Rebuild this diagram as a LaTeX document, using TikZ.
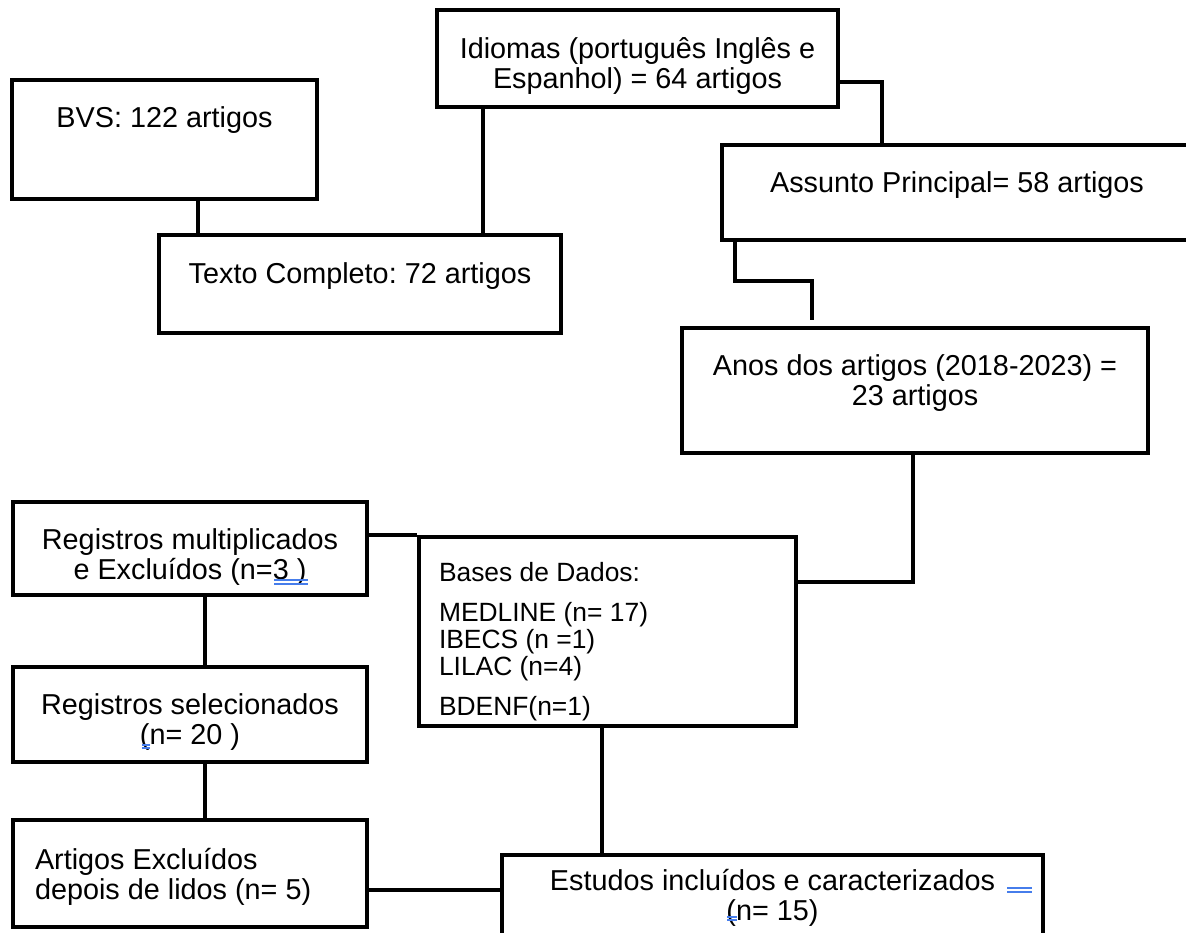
\documentclass[tikz,border=0pt]{standalone}
\usepackage{fontspec}
\setmainfont{Liberation Sans}
\usetikzlibrary{positioning}
\definecolor{spellblue}{RGB}{70,125,235}
\frenchspacing

\begin{document}
\begin{tikzpicture}[x=0.5pt,y=-0.5pt,line width=2pt]
        \tikzstyle{box}=[draw,rectangle,inner sep=0pt]
        \tikzstyle{txt}=[inner sep=0pt,align=center,font=\fontsize{14.4pt}{15pt}\selectfont]
        \tikzstyle{small txt}=[txt,align=left,font=\fontsize{13.2pt}{13.5pt}\selectfont]
        \tikzstyle{spellmark}=[draw=spellblue,line width=0.8pt]

        \useasboundingbox (0,0) rectangle (1186,932);
        \clip (0,0) rectangle (1186,932);

        % Draw the search boxes at the top
        \node[box,minimum width=152.5pt,minimum height=59.5pt] (bvs) at (164.5,139.5) {};
        \node[box,minimum width=201pt,minimum height=49pt] (texto) at (360,284) {};
        \node[box,minimum width=200.5pt,minimum height=48.5pt] (idiomas) at (637.5,58.5) {};
        \node[box,minimum width=235pt,minimum height=47.5pt] (assunto) at (957,192.5) {};
        \node[box,minimum width=233pt,minimum height=62.5pt] (anos) at (915,390.5) {};

        % Draw the selection boxes at the bottom
        \node[box,minimum width=177pt,minimum height=46.5pt] (regmult) at (190,548.5) {};
        \node[box,minimum width=177pt,minimum height=47.5pt] (regsel) at (190,714.5) {};
        \node[box,minimum width=177pt,minimum height=53.5pt] (artigos) at (190,873.5) {};
        \node[box,minimum width=188.5pt,minimum height=94.5pt] (bases) at (607.5,631.5) {};
        \node[box,minimum width=270.5pt,minimum height=60pt] (estudos) at (772.5,915) {};

        % Texts of the boxes
        \node[txt] (bvs-t) at ([yshift=9.75pt]bvs.center) {BVS: 122 artigos};
        \node[txt] (texto-t) at ([yshift=4pt]texto.center) {Texto Completo: 72 artigos};
        \node[txt] (idiomas-t) at ([yshift=-3.75pt]idiomas.center) {Idiomas (português Inglês e\\Espanhol) = 64 artigos};
        \node[txt] (assunto-t) at ([yshift=3.75pt]assunto.center) {Assunto Principal= 58 artigos};
        \node[txt] (anos-t) at ([yshift=3.75pt]anos.center) {Anos dos artigos (2018-2023) =\\23 artigos};
        \node[txt] (regmult-t) at ([yshift=-4.5pt]regmult.center) {Registros multiplicados\\e Excluídos (n=3 )};
        \node[txt] (regsel-t) at ([yshift=-3.75pt]regsel.center) {Registros selecionados\\(n= 20 )};
        \node[txt,align=left,anchor=west] (artigos-t) at ([xshift=11pt,yshift=-1.5pt]artigos.west) {Artigos Excluídos\\depois de lidos (n= 5)};
        \node[small txt,below right=12.9pt and 10pt of bases.north west] (bases-t)
            {Bases de Dados:\\[6.5pt]MEDLINE (n= 17)\\IBECS (n =1)\\LILAC (n=4)\\[6.5pt]BDENF(n=1)};
        \node[txt,below=7.25pt of estudos.north] (estudos-t) {Estudos incluídos e caracterizados\\(n= 15)};

        % Connect the boxes
        \coordinate (anos-in) at (812,320);
        \draw ([xshift=16.75pt]bvs.south) -- ([xshift=16.75pt]bvs.south |- texto.north);
        \draw ([xshift=-77.25pt]idiomas.south) -- ([xshift=-77.25pt]idiomas.south |- texto.north);
        \draw ([yshift=-11.75pt]idiomas.east) -| ([xshift=-37.5pt]assunto.north);
        \draw ([xshift=7.5pt]assunto.south west) -- ++(0,39) -| (anos-in);
        \draw ([xshift=-1pt]anos.south) |- ([yshift=24.75pt]bases.east);
        \draw (regmult.east |- bases.north) -- (bases.north west);
        \draw ([xshift=7.5pt]regmult.south) -- ([xshift=7.5pt]regsel.north);
        \draw ([xshift=7.5pt]regsel.south) -- ([xshift=7.5pt]artigos.north);
        \draw ([xshift=-2.75pt]bases.south) -- ([xshift=-2.75pt]bases.south |- estudos.north);
        \draw ([yshift=-8.25pt]artigos.east) -- ([yshift=-8.25pt]artigos.east -| estudos.west);

        % Blue marks under the texts
        \draw[spellmark] (274,580) -- (308,580) (274,584) -- (308,584);
        \draw[spellmark] (142,745) -- (150,745) (142,748) -- (150,748);
        \draw[spellmark] (1007,888) -- (1032,888) (1007,892) -- (1032,892);
        \draw[spellmark] (727,917) -- (737,917) (727,920) -- (737,920);
    \end{tikzpicture}
\end{document}
